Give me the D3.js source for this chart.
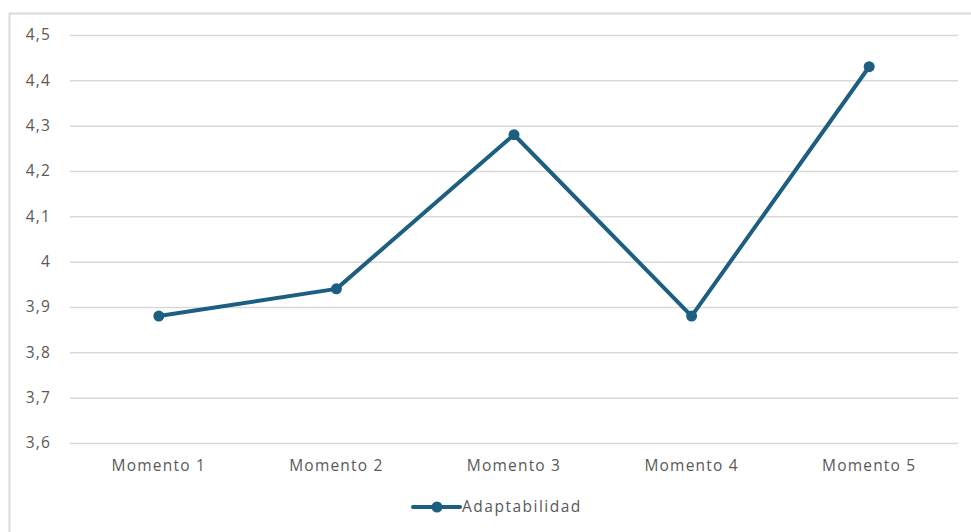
<!DOCTYPE html>
<html>
<head>
<meta charset="utf-8">
<script src="https://cdn.jsdelivr.net/npm/d3@7/dist/d3.min.js"></script>
<style>
  html, body { margin: 0; padding: 0; background: #ffffff; }
  svg { display: block; }
</style>
</head>
<body>
<svg id="chart" width="971" height="532"></svg>
<script>
const categories = ["Momento 1", "Momento 2", "Momento 3", "Momento 4", "Momento 5"];
const seriesName = "Adaptabilidad";
const values = [3.88, 3.94, 4.28, 3.88, 4.43];
const yTicks = [3.6, 3.7, 3.8, 3.9, 4.0, 4.1, 4.2, 4.3, 4.4, 4.5];

const color = "#1d5f80";
const textColor = "#595959";
const gridColor = "#d9d9d9";
const font = "'Open Sans', 'Liberation Sans', sans-serif";
const fontSize = 15.5;
const spacing = "1.2px";

const svg = d3.select("#chart");
const W = 971, H = 532;
const plot = { left: 70, right: 958, top: 35, bottom: 443 };

// chart area border
svg.append("rect")
  .attr("x", 9.5).attr("y", 13.5)
  .attr("width", W + 20).attr("height", H + 20)
  .attr("fill", "none").attr("stroke", gridColor).attr("stroke-width", 2);

const x = d3.scaleBand().domain(categories).range([plot.left, plot.right]).padding(0);
const y = d3.scaleLinear().domain([3.6, 4.5]).range([plot.bottom, plot.top]);

const fmt = v => (Math.round(v * 10) / 10 === Math.round(v) ? d3.format("d")(v) : d3.format(".1f")(v).replace(".", ","));

// gridlines
const yAxis = d3.axisLeft(y).tickValues(yTicks).tickSize(-(plot.right - plot.left)).tickPadding(19).tickFormat(fmt);
const gy = svg.append("g").attr("transform", `translate(${plot.left},0)`).call(yAxis);
gy.select(".domain").remove();
gy.selectAll(".tick line").attr("stroke", gridColor).attr("stroke-width", 1.5);
gy.selectAll(".tick text")
  .attr("fill", textColor).attr("font-family", font).attr("font-size", fontSize)
  .attr("letter-spacing", spacing);

// x axis labels
const xAxis = d3.axisBottom(x).tickSize(0).tickPadding(17);
const gx = svg.append("g").attr("transform", `translate(0,${plot.bottom})`).call(xAxis);
gx.select(".domain").remove();
gx.selectAll(".tick text")
  .attr("fill", textColor).attr("font-family", font).attr("font-size", fontSize)
  .attr("letter-spacing", spacing);

const data = categories.map((c, i) => ({ c, v: values[i] }));
const cx = d => x(d.c) + x.bandwidth() / 2;

const line = d3.line().x(cx).y(d => y(d.v));
svg.append("path").datum(data)
  .attr("d", line)
  .attr("fill", "none").attr("stroke", color).attr("stroke-width", 4)
  .attr("stroke-linejoin", "round").attr("stroke-linecap", "round");

svg.selectAll("circle.pt").data(data).enter().append("circle")
  .attr("class", "pt")
  .attr("cx", cx).attr("cy", d => y(d.v)).attr("r", 5.5)
  .attr("fill", color);

// legend
const lg = svg.append("g").attr("transform", "translate(413,507)");
lg.append("line").attr("x1", 0).attr("x2", 47).attr("y1", 0).attr("y2", 0)
  .attr("stroke", color).attr("stroke-width", 4).attr("stroke-linecap", "round");
lg.append("circle").attr("cx", 24).attr("cy", 0).attr("r", 5.5).attr("fill", color);
lg.append("text").attr("x", 49).attr("y", 0).attr("dy", "0.35em")
  .attr("fill", textColor).attr("font-family", font).attr("font-size", fontSize)
  .attr("letter-spacing", "1.5px")
  .text(seriesName);
</script>
</body>
</html>
